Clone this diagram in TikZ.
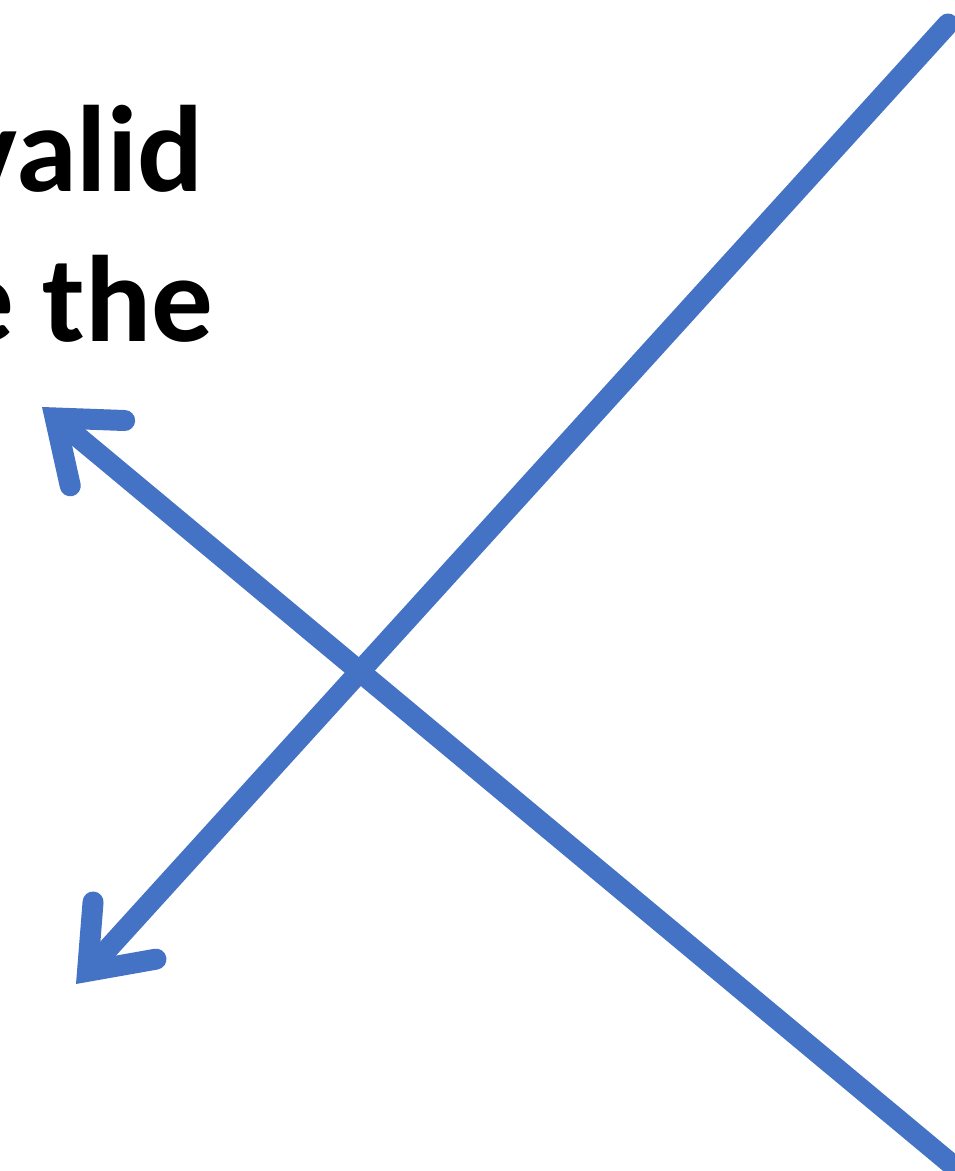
\documentclass[tikz,border=0pt]{standalone}
\usepackage{fontspec}
\setmainfont{Carlito}
\usetikzlibrary{arrows.meta}
\definecolor{arrowblue}{RGB}{68,114,196}

\begin{document}
\begin{tikzpicture}[>=Stealth,line cap=round,line join=round]
 \useasboundingbox (0,0) rectangle (9.55,11.71);
 \clip (0,0) rectangle (9.55,11.71);
 \coordinate (ne) at (9.48,11.47); \coordinate (sw) at (0.76,1.87);
 \coordinate (nw) at (0.42,7.64); \coordinate (se) at (9.50,0.08);
 \node[anchor=base east,inner sep=0pt,font=\fontsize{35}{42}\selectfont\bfseries]
  (valid) at (2.04,9.79) {valid};
 \node[anchor=base east,inner sep=0pt,font=\fontsize{35}{42}\selectfont\bfseries]
  (the) at (2.14,8.29) {e the};
 \draw[arrowblue,line width=2.1mm,
  -{Straight Barb[length=5.5mm,width=8.5mm,line cap=round]}] (ne)--(sw);
 \draw[arrowblue,line width=2.1mm,
  -{Straight Barb[length=5.5mm,width=8.5mm,line cap=round]}] (se)--(nw);
\end{tikzpicture}
\end{document}
